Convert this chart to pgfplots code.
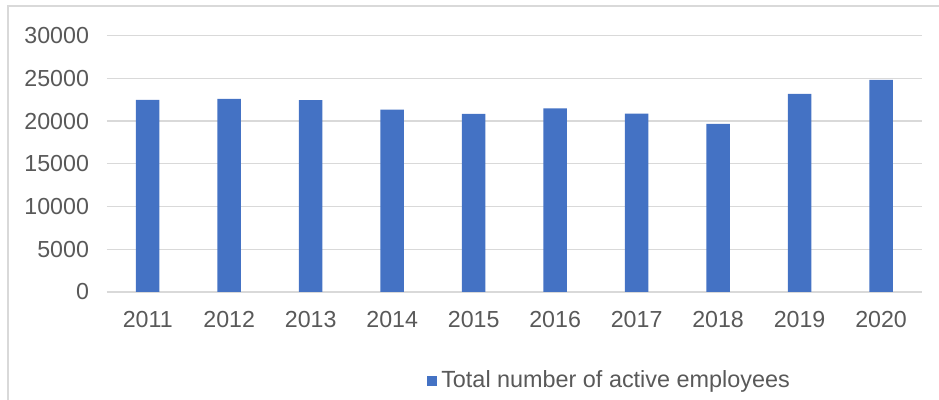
\documentclass[border=0pt]{standalone}
\usepackage{pgfplots}
\pgfplotsset{compat=1.18}
\usepackage{fontspec}
\setmainfont{Liberation Sans}
\definecolor{barblue}{RGB}{68,114,196}
\definecolor{gridgray}{RGB}{217,217,217}
\definecolor{txtgray}{RGB}{89,89,89}
\begin{document}
\begin{tikzpicture}
\path[use as bounding box] (0,0) rectangle (469.5pt,200pt);
% chart frame (cropped at right and bottom)
\draw[gridgray, line width=0.8pt] (4pt,0) -- (4pt,197pt) -- (469.5pt,197pt);
\begin{axis}[
    at={(53.5pt,54pt)}, anchor=south west,
    scale only axis,
    width=407.4pt, height=128.2pt,
    ybar, bar width=11.75pt,
    xmin=2010.5, xmax=2020.5,
    ymin=0, ymax=30000,
    ytick={0,5000,...,30000},
    scaled y ticks=false,
    yticklabel={\pgfmathprintnumber[fixed,precision=0]{\tick}},
    xtick=data,
    axis line style={draw=none},
    major tick length=0pt,
    ymajorgrids,
    grid style={gridgray, line width=0.6pt},
    /pgf/number format/assume math mode=true,
    /pgf/number format/1000 sep={},
    tick label style={font=\fontsize{11.6}{13}\selectfont, text=txtgray},
    yticklabel style={xshift=-5.5pt},
    xticklabel style={yshift=-6pt},
    legend style={at={(0.618,-0.347)}, anchor=center, draw=none,
        font=\fontsize{11.7}{13}\selectfont, text=txtgray,
        legend cell align=left},
    legend image code/.code={\fill[#1] (0pt,-2.5pt) rectangle (5pt,2.5pt);},
]
\addplot[fill=barblue, draw=none] coordinates {
    (2011,22480) (2012,22600) (2013,22440) (2014,21350) (2015,20840)
    (2016,21470) (2017,20880) (2018,19670) (2019,23190) (2020,24830)
};
\addlegendentry{Total number of active employees}
\end{axis}
\end{tikzpicture}
\end{document}
